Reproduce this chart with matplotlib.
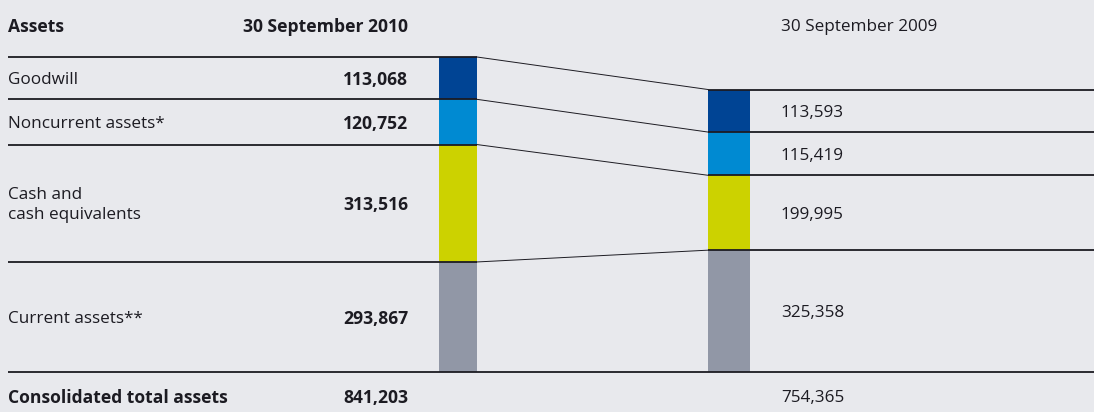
import numpy as np
import matplotlib.pyplot as plt

# === DATA ===
categories = ["Goodwill", "Noncurrent assets*", "Cash and\ncash equivalents", "Current assets**"]
values_2010 = [113068, 120752, 313516, 293867]
values_2009 = [113593, 115419, 199995, 325358]
total_2010 = 841203
total_2009 = 754365
header_left = "Assets"
header_2010 = "30 September 2010"
header_2009 = "30 September 2009"
total_label = "Consolidated total assets"
colors = ["#004494", "#008ad2", "#ccd200", "#9197a6"]

# === LAYOUT (pixels) ===
W, H = 1094, 412
BASE_PX = 372            # baseline row in pixels
SCALE = 315 / total_2010 # pixels per unit
BG = "#e8e9ed"
INK = "#1c1b22"
FONT = "Open Sans"
FS = 12.3
FSB = 12.6
DY = 2 / SCALE           # nudge text down a little

def yv(p):
    # pixel row -> value coordinate
    return (BASE_PX - p) / SCALE

def fmt(v):
    return f"{v:,}"

fig = plt.figure(figsize=(W / 100, H / 100), dpi=100, facecolor=BG)
ax = fig.add_axes([0, 0, 1, 1])
ax.set_facecolor(BG)
ax.set_xlim(0, W)
ax.set_ylim(yv(H), yv(0))
ax.axis("off")

# stacked columns (goodwill on top)
def stack(vals):
    bottoms = np.cumsum([0] + vals[::-1][:-1])[::-1]
    return bottoms

b10 = stack(values_2010)
b09 = stack(values_2009)
L0, L1 = 439, 477
R0, R1 = 708, 750
ax.bar((L0 + L1) / 2, values_2010, width=L1 - L0, bottom=b10, color=colors, linewidth=0)
ax.bar((R0 + R1) / 2, values_2009, width=R1 - R0, bottom=b09, color=colors, linewidth=0)

# row rules and connectors
tops10 = [b + v for b, v in zip(b10, values_2010)]
tops09 = [b + v for b, v in zip(b09, values_2009)]
for t10, t09 in zip(tops10, tops09):
    ax.plot([8, L1], [t10, t10], color=INK, lw=1.3, solid_capstyle="butt")
    ax.plot([R0, W], [t09, t09], color=INK, lw=1.3, solid_capstyle="butt")
    ax.plot([L1, R0], [t10, t09], color=INK, lw=0.7)
ax.plot([8, W], [0, 0], color=INK, lw=1.3, solid_capstyle="butt")

# headers
ax.text(8, yv(25) - DY, header_left, fontsize=FSB, fontweight="bold", family=FONT,
        color=INK, va="center", ha="left")
ax.text(408, yv(25) - DY, header_2010, fontsize=FSB, fontweight="bold", family=FONT,
        color=INK, va="center", ha="right")
ax.text(781, yv(25) - DY, header_2009, fontsize=FS, family=FONT,
        color=INK, va="center", ha="left")

# row labels and values
for cat, v10, b, v09, b9 in zip(categories, values_2010, b10, values_2009, b09):
    ym = b + v10 / 2 - DY
    ax.text(8, ym, cat, fontsize=FS, family=FONT, color=INK, va="center",
            ha="left", linespacing=1.32)
    ax.text(408, ym, fmt(v10), fontsize=FSB, fontweight="bold", family=FONT,
            color=INK, va="center", ha="right")
    ax.text(781, b9 + v09 / 2 - DY, fmt(v09), fontsize=FS, family=FONT,
            color=INK, va="center", ha="left")

# totals
ax.text(8, yv(396) - DY, total_label, fontsize=FSB, fontweight="bold", family=FONT,
        color=INK, va="center", ha="left")
ax.text(408, yv(396) - DY, fmt(total_2010), fontsize=FSB, fontweight="bold", family=FONT,
        color=INK, va="center", ha="right")
ax.text(781, yv(396) - DY, fmt(total_2009), fontsize=FS, family=FONT,
        color=INK, va="center", ha="left")

fig.savefig("out.png", dpi=100, facecolor=BG)
